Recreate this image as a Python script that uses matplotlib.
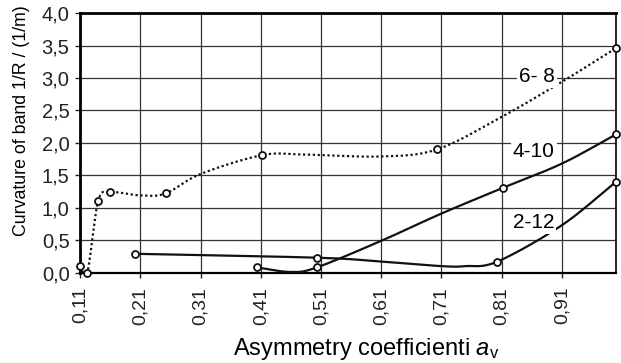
import matplotlib
matplotlib.use("Agg")
import matplotlib.pyplot as plt
import numpy as np

plt.rcParams["font.family"] = ["Liberation Sans", "DejaVu Sans"]
plt.rcParams["mathtext.fontset"] = "custom"
plt.rcParams["mathtext.rm"] = "Liberation Sans"
plt.rcParams["mathtext.it"] = "Liberation Sans:italic"

# x tick positions and labels
x_ticks = [0.11, 0.21, 0.31, 0.41, 0.51, 0.61, 0.71, 0.81, 0.91]
x_labels = ["0,11", "0,21", "0,31", "0,41", "0,51", "0,61", "0,71", "0,81", "0,91"]
y_ticks = [0.0, 0.5, 1.0, 1.5, 2.0, 2.5, 3.0, 3.5, 4.0]
y_labels = ["0,0", "0,5", "1,0", "1,5", "2,0", "2,5", "3,0", "3,5", "4,0"]

# measured points (markers)
m68_x = [0.11, 0.122, 0.140, 0.160, 0.252, 0.412, 0.703, 1.0]
m68_y = [0.10, 0.0, 1.10, 1.24, 1.22, 1.81, 1.90, 3.46]
m410_x = [0.403, 0.503, 0.813, 1.0]
m410_y = [0.08, 0.08, 1.31, 2.13]
m212_x = [0.201, 0.503, 0.803, 1.0]
m212_y = [0.29, 0.23, 0.17, 1.40]

# line traces
t68_x = [0.11, 0.122, 0.140, 0.160, 0.21, 0.252, 0.31, 0.412, 0.48, 0.61, 0.703, 0.81, 0.91, 1.0]
t68_y = [0.10, 0.0, 1.10, 1.24, 1.19, 1.22, 1.52, 1.81, 1.82, 1.79, 1.90, 2.40, 2.94, 3.46]
t410_x = [0.403, 0.46, 0.503, 0.61, 0.71, 0.813, 0.91, 1.0]
t410_y = [0.08, 0.01, 0.08, 0.49, 0.91, 1.31, 1.68, 2.13]
t212_x = [0.201, 0.503, 0.61, 0.71, 0.75, 0.803, 0.91, 1.0]
t212_y = [0.29, 0.23, 0.17, 0.10, 0.10, 0.17, 0.73, 1.40]

labels = ["6- 8", "4-10", "2-12"]
label_x = [0.868, 0.863, 0.863]
label_y = [3.03, 1.86, 0.78]


def smooth(xs, ys, n=20):
    # Catmull-Rom through the traced points
    p = np.column_stack([xs, ys]).astype(float)
    p = np.vstack([2 * p[0] - p[1], p, 2 * p[-1] - p[-2]])
    out = []
    for i in range(1, len(p) - 2):
        p0, p1, p2, p3 = p[i - 1], p[i], p[i + 1], p[i + 2]
        t = np.linspace(0, 1, n, endpoint=False)[:, None]
        seg = 0.5 * ((2 * p1) + (-p0 + p2) * t + (2 * p0 - 5 * p1 + 4 * p2 - p3) * t ** 2
                     + (-p0 + 3 * p1 - 3 * p2 + p3) * t ** 3)
        out.append(seg)
    out.append(p[-2][None, :])
    out = np.vstack(out)
    return out[:, 0], out[:, 1]


fig = plt.figure(figsize=(6.21, 3.63), dpi=100)
ax = fig.add_axes([0.129, 0.249, 0.863, 0.715])
ax.set_xlim(0.11, 1.0)
ax.set_ylim(0.0, 4.0)

ax.set_xticks(x_ticks)
ax.set_xticklabels(x_labels, rotation=90, fontsize=14)
ax.set_yticks(y_ticks)
ax.set_yticklabels(y_labels, fontsize=14.5)
ax.tick_params(direction="out", length=3.6, width=1, colors="#222222")
ax.tick_params(axis="x", pad=6.5)
ax.tick_params(axis="y", pad=4)
ax.grid(True, color="#333333", lw=0.9)
ax.set_axisbelow(True)
for side in ["left", "top"]:
    ax.spines[side].set_linewidth(2.0)
ax.spines["bottom"].set_linewidth(1.6)
ax.spines["right"].set_linewidth(1.2)

sx, sy = smooth(t68_x, t68_y)
ax.plot(sx, sy, color="#111111", lw=1.6, ls=(0, (1, 1.2)), zorder=3)
sx, sy = smooth(t410_x, t410_y)
ax.plot(sx, sy, color="#111111", lw=1.6, zorder=3)
sx, sy = smooth(t212_x, t212_y)
ax.plot(sx, sy, color="#111111", lw=1.6, zorder=3)

for mx, my in [(m68_x, m68_y), (m410_x, m410_y), (m212_x, m212_y)]:
    ax.plot(mx, my, ls="none", marker="o", ms=5, mfc="white", mec="#111111",
            mew=1.3, zorder=4, clip_on=False)

for txt, lx, ly in zip(labels, label_x, label_y):
    ax.text(lx, ly, txt, fontsize=15, ha="center", va="center", zorder=3.5,
            bbox=dict(facecolor="white", edgecolor="none", pad=1.5))

ax.set_ylabel("Curvature of band 1/R / (1/m)", fontsize=12.8, va="center")
ax.yaxis.set_label_coords(-0.11, 0.584)
ax.set_xlabel(r"Asymmetry coefficienti $a_\mathregular{v}$", fontsize=17, va="center")
ax.xaxis.set_label_coords(0.534, -0.295)

fig.savefig("out.png", dpi=100)
